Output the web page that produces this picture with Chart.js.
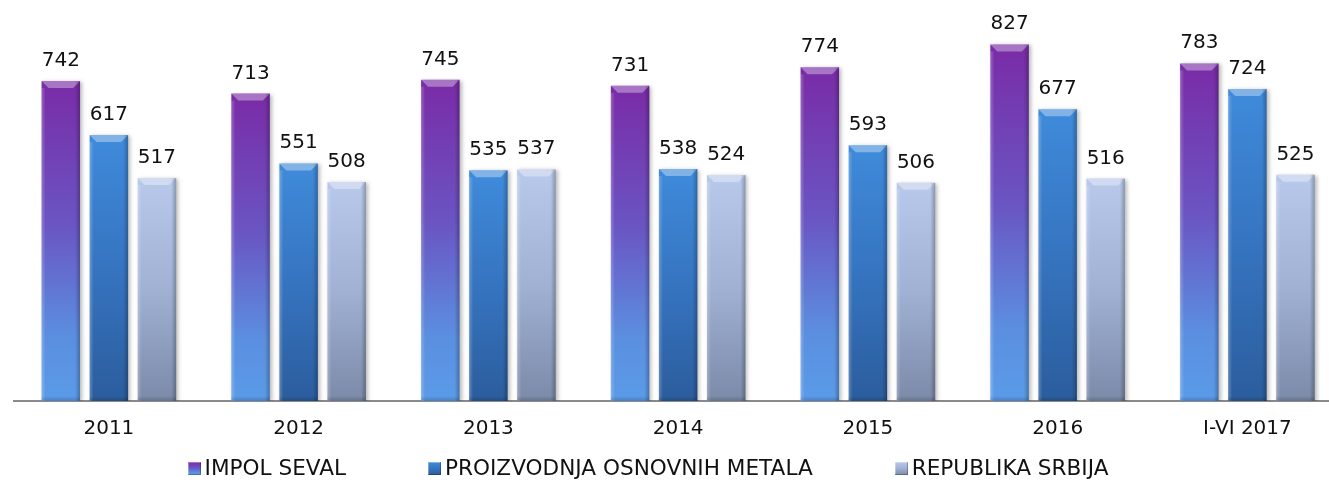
<!DOCTYPE html>
<html>
<head>
<meta charset="utf-8">
<script src="https://cdn.jsdelivr.net/npm/chart.js@4/dist/chart.umd.min.js"></script>
<style>
  html, body { margin: 0; padding: 0; background: #fff; overflow: hidden; }
  #wrap { width: 1329px; height: 462px; position: relative; }
  #legend {
    position: absolute; left: 0; top: 456px; width: 1296px;
    display: flex; justify-content: center; gap: 82px;
    font-family: 'DejaVu Sans', Verdana, sans-serif; font-size: 21.6px;
    line-height: 24px; color: #111; white-space: nowrap;
  }
  #legend span.item { display: flex; align-items: center; }
  #legend span.box {
    display: inline-block; width: 13px; height: 13px; margin-right: 4px;
    box-shadow: inset -1px -1px 0 rgba(0,0,0,0.25), inset 1px 1px 0 rgba(255,255,255,0.35);
  }
</style>
</head>
<body>
<div id="wrap"><canvas id="myChart"></canvas></div>
<div id="legend"></div>
<script>
const years = ['2011', '2012', '2013', '2014', '2015', '2016', 'I-VI 2017'];
const impolSeval = [742, 713, 745, 731, 774, 827, 783];
const osnovniMetali = [617, 551, 535, 538, 593, 677, 724];
const srbija = [517, 508, 537, 524, 506, 516, 525];
const seriesNames = ['IMPOL SEVAL', 'PROIZVODNJA OSNOVNIH METALA', 'REPUBLIKA SRBIJA'];

const FONT = 'DejaVu Sans, Verdana, sans-serif';

// gradient stops per series, top of bar -> base
const gradStops = [
    [[0, '#7a2ba6'], [0.45, '#6a55c3'], [0.8, '#5b8fe0'], [1, '#5a9be8']],
    [[0, '#3f8bdb'], [0.5, '#3674c0'], [1, '#2b5d9d']],
    [[0, '#b8c9eb'], [0.5, '#a0b1d3'], [1, '#7c8aa9']]
];
const flatColors = ['#6d4cbd', '#2f6db8', '#8e9dbd'];

// the original plot runs a bit past the right edge, so x is a linear index
function toPoints(values) {
    return values.map((v, i) => ({ x: i, y: v }));
}

function barFill(idx) {
    return function (c) {
        const chart = c.chart;
        if (!chart.chartArea || !c.raw) return flatColors[idx];
        const y = chart.scales.y.getPixelForValue(c.raw.y);
        const base = chart.scales.y.getPixelForValue(0);
        const g = chart.ctx.createLinearGradient(0, y, 0, base);
        gradStops[idx].forEach(s => g.addColorStop(s[0], s[1]));
        return g;
    };
}

// bevel look + value labels on top of bars
const bevelPlugin = {
    id: 'bevel',
    beforeDatasetDraw(chart) {
        const ctx = chart.ctx;
        ctx.save();
        ctx.shadowColor = 'rgba(0,0,0,0.28)';
        ctx.shadowBlur = 4;
        ctx.shadowOffsetX = 2;
        ctx.shadowOffsetY = 1;
    },
    afterDatasetDraw(chart) {
        chart.ctx.restore();
    },
    afterDatasetsDraw(chart) {
        const ctx = chart.ctx;
        chart.data.datasets.forEach((ds, i) => {
            const meta = chart.getDatasetMeta(i);
            meta.data.forEach((bar, j) => {
                const w = bar.width;
                const l = bar.x - w / 2;
                const r = bar.x + w / 2;
                const t = bar.y;
                const b = bar.base;
                const e = 7;
                ctx.save();
                // top bevel
                ctx.beginPath();
                ctx.moveTo(l, t);
                ctx.lineTo(r, t);
                ctx.lineTo(r - e, t + e);
                ctx.lineTo(l + e, t + e);
                ctx.closePath();
                ctx.fillStyle = 'rgba(255,255,255,0.35)';
                ctx.fill();
                // left edge light
                let g = ctx.createLinearGradient(l, 0, l + 4, 0);
                g.addColorStop(0, 'rgba(255,255,255,0.25)');
                g.addColorStop(1, 'rgba(255,255,255,0)');
                ctx.fillStyle = g;
                ctx.fillRect(l, t + e, 4, b - t - e);
                // right edge dark
                g = ctx.createLinearGradient(r - 5, 0, r, 0);
                g.addColorStop(0, 'rgba(0,0,0,0)');
                g.addColorStop(1, 'rgba(0,0,0,0.25)');
                ctx.fillStyle = g;
                ctx.fillRect(r - 5, t, 5, b - t);
                // bottom dark strip
                g = ctx.createLinearGradient(0, b - 5, 0, b);
                g.addColorStop(0, 'rgba(0,0,0,0)');
                g.addColorStop(1, 'rgba(0,0,0,0.18)');
                ctx.fillStyle = g;
                ctx.fillRect(l, b - 5, w, 5);
                // value label
                ctx.fillStyle = '#111';
                ctx.font = '20px ' + FONT;
                ctx.textAlign = 'center';
                ctx.textBaseline = 'alphabetic';
                ctx.fillText(String(ds.data[j].y), bar.x, t - 15);
                ctx.restore();
            });
        });
    }
};

const ctx = document.getElementById('myChart').getContext('2d');
const chart = new Chart(ctx, {
    type: 'bar',
    data: {
        datasets: [
            { label: seriesNames[0], data: toPoints(impolSeval), backgroundColor: barFill(0) },
            { label: seriesNames[1], data: toPoints(osnovniMetali), backgroundColor: barFill(1) },
            { label: seriesNames[2], data: toPoints(srbija), backgroundColor: barFill(2) }
        ]
    },
    plugins: [bevelPlugin],
    options: {
        responsive: true,
        maintainAspectRatio: false,
        animation: false,
        layout: { padding: { left: 14, right: 0, top: 13, bottom: 5 } },
        datasets: {
            bar: { barPercentage: 0.8, categoryPercentage: 0.76 }
        },
        scales: {
            x: {
                type: 'linear',
                offset: false,
                min: -0.5,
                max: 6.43,
                afterBuildTicks(scale) {
                    scale.ticks = years.map((_, i) => ({ value: i }));
                },
                grid: { display: true, offset: false, drawOnChartArea: false, drawTicks: false },
                border: { display: true, color: '#8a8a8a', width: 2 },
                ticks: {
                    color: '#111',
                    font: { family: FONT, size: 20 },
                    padding: 16,
                    autoSkip: false,
                    maxRotation: 0,
                    callback: (v) => years[v]
                }
            },
            y: {
                display: false,
                min: 0,
                max: 900
            }
        },
        plugins: {
            legend: { display: false },
            tooltip: { enabled: false }
        }
    }
});

// legend as plain html under the canvas
const legendEl = document.getElementById('legend');
chart.data.datasets.forEach((ds, i) => {
    const item = document.createElement('span');
    item.className = 'item';
    const box = document.createElement('span');
    box.className = 'box';
    box.style.background = 'linear-gradient(' +
        gradStops[i].map(s => s[1] + ' ' + (s[0] * 100) + '%').join(', ') + ')';
    item.appendChild(box);
    item.appendChild(document.createTextNode(ds.label));
    legendEl.appendChild(item);
});
</script>
</body>
</html>
